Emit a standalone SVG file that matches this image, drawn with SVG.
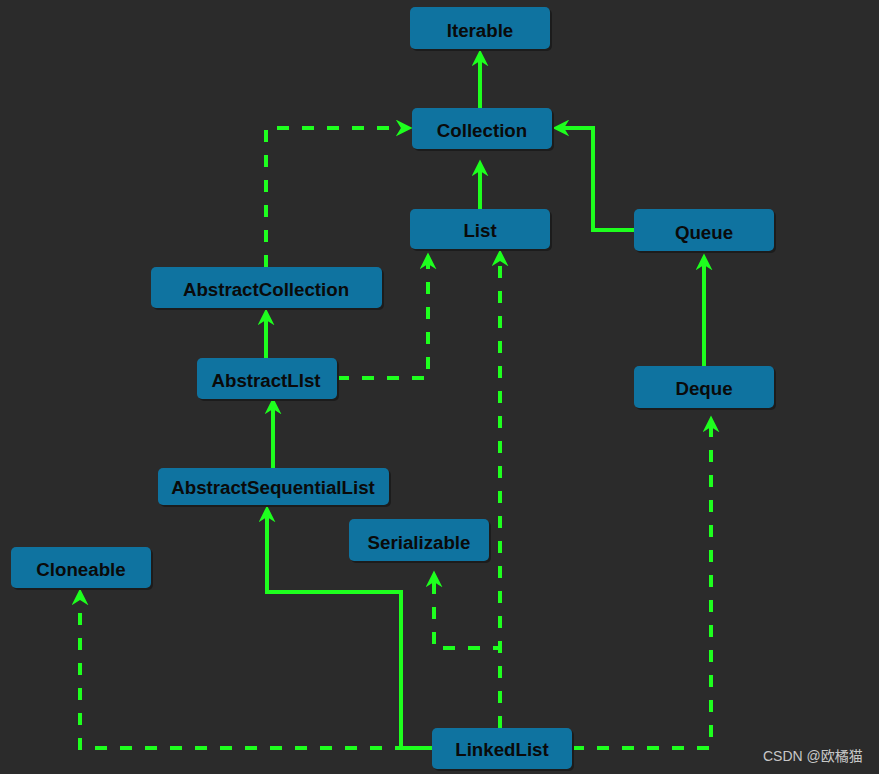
<svg xmlns="http://www.w3.org/2000/svg" width="879" height="774" viewBox="0 0 879 774">
<style>
.bg{fill:#2b2b2b}
.box{fill:#0f73a0}
.sh{fill:#1c1c1c}
.lbl{font-family:"Liberation Sans",Arial,sans-serif;font-weight:bold;font-size:18.7px;fill:#0a0a0a;text-anchor:middle}
.c{fill:none;stroke:#1eff1e;stroke-width:4}
.d{stroke-dasharray:12 13}
.wm{font-family:"Liberation Sans","Noto Sans CJK SC",sans-serif;font-size:14px;fill:#c8c8c8}
</style>
<defs>
<marker id="ah" markerUnits="userSpaceOnUse" viewBox="0 0 16 16" markerWidth="17" markerHeight="17" refX="6" refY="8" orient="auto">
<path d="M0,0 L16,8 L0,16 L5,8 Z" fill="#1eff1e"/>
</marker>
</defs>
<rect class="bg" x="0" y="0" width="879" height="774"/>
<g id="connectors">
<path class="c" d="M480,108 V60" marker-end="url(#ah)"/>
<path class="c" d="M480,209 V170" marker-end="url(#ah)"/>
<path class="c" d="M634,230 H593 V128 H563" marker-end="url(#ah)"/>
<path class="c" d="M704,366 V264" marker-end="url(#ah)"/>
<path class="c d" d="M266,267 V128 H402" marker-end="url(#ah)"/>
<path class="c" d="M266,358 V319" marker-end="url(#ah)"/>
<path class="c d" d="M337,378 H428 V263" marker-end="url(#ah)"/>
<path class="c" d="M273,468 V408" marker-end="url(#ah)"/>
<path class="c" d="M432,748 H401 V592 H267 V516" marker-end="url(#ah)"/>
<path class="c d" d="M432,748 H80 V599" marker-end="url(#ah)"/>
<path class="c d" d="M500,728 V260" marker-end="url(#ah)"/>
<path class="c d" d="M500,728 V648 H434 V581" marker-end="url(#ah)"/>
<path class="c d" d="M572,748 H711 V426" marker-end="url(#ah)"/>
</g>
<g id="Iterable"><rect class="sh" x="412" y="9" width="140" height="42" rx="5"/><rect class="box" x="410" y="7" width="140" height="42" rx="5"/><text class="lbl" x="480" y="37">Iterable</text></g>
<g id="Collection"><rect class="sh" x="414" y="110" width="140" height="41" rx="5"/><rect class="box" x="412" y="108" width="140" height="41" rx="5"/><text class="lbl" x="482" y="137">Collection</text></g>
<g id="List"><rect class="sh" x="412" y="211" width="140" height="40" rx="5"/><rect class="box" x="410" y="209" width="140" height="40" rx="5"/><text class="lbl" x="480" y="237">List</text></g>
<g id="Queue"><rect class="sh" x="636" y="211" width="140" height="42" rx="5"/><rect class="box" x="634" y="209" width="140" height="42" rx="5"/><text class="lbl" x="704" y="239">Queue</text></g>
<g id="AbstractCollection"><rect class="sh" x="153" y="269" width="231" height="41" rx="5"/><rect class="box" x="151" y="267" width="231" height="41" rx="5"/><text class="lbl" x="266" y="296">AbstractCollection</text></g>
<g id="AbstractLIst"><rect class="sh" x="199" y="360" width="140" height="41" rx="5"/><rect class="box" x="197" y="358" width="140" height="41" rx="5"/><text class="lbl" x="266" y="387">AbstractLIst</text></g>
<g id="Deque"><rect class="sh" x="636" y="368" width="140" height="42" rx="5"/><rect class="box" x="634" y="366" width="140" height="42" rx="5"/><text class="lbl" x="704" y="395">Deque</text></g>
<g id="AbstractSequentialList"><rect class="sh" x="160" y="470" width="231" height="37" rx="5"/><rect class="box" x="158" y="468" width="231" height="37" rx="5"/><text class="lbl" x="273" y="494">AbstractSequentialList</text></g>
<g id="Serializable"><rect class="sh" x="351" y="521" width="140" height="42" rx="5"/><rect class="box" x="349" y="519" width="140" height="42" rx="5"/><text class="lbl" x="419" y="549">Serializable</text></g>
<g id="Cloneable"><rect class="sh" x="13" y="549" width="140" height="41" rx="5"/><rect class="box" x="11" y="547" width="140" height="41" rx="5"/><text class="lbl" x="81" y="576">Cloneable</text></g>
<g id="LinkedList"><rect class="sh" x="434" y="730" width="140" height="41" rx="5"/><rect class="box" x="432" y="728" width="140" height="41" rx="5"/><text class="lbl" x="502" y="756">LinkedList</text></g>
<text class="wm" x="763" y="761">CSDN @欧橘猫</text>
</svg>
